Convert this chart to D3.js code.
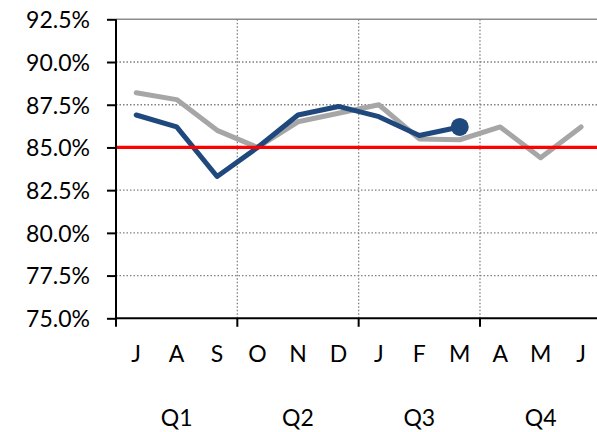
<!DOCTYPE html>
<html>
<head>
<meta charset="utf-8">
<script src="https://cdn.jsdelivr.net/npm/d3@7"></script>
<style>
html,body{margin:0;padding:0;background:#fff;}
svg{display:block;overflow:hidden;}
text{font-family:Lato,"Open Sans",sans-serif;fill:#000;}
</style>
</head>
<body>
<script>
const months = ["J","A","S","O","N","D","J","F","M","A","M","J"];
const quarters = ["Q1","Q2","Q3","Q4"];
const currentYear = [86.9, 86.2, 83.3, 85.0, 86.9, 87.4, 86.8, 85.7, 86.2];
const priorYear = [88.2, 87.8, 86.0, 85.0, 86.5, 87.0, 87.5, 85.5, 85.45, 86.2, 84.4, 86.2];
const target = 85.0;
const yTicks = [75, 77.5, 80, 82.5, 85, 87.5, 90, 92.5];

(function () {
const W = 597, H = 432;
const pL = 116, pR = 601.3, pT = 19.3, pB = 318.3;
const FS = 23;

const svg = d3.select("body").append("svg").attr("width", W).attr("height", H);

const x = d3.scaleBand().domain(d3.range(months.length)).range([pL, pR]).padding(0);
const xq = d3.scaleBand().domain(d3.range(quarters.length)).range([pL, pR]).padding(0);
const y = d3.scaleLinear().domain([75, 92.5]).range([pB, pT]);
const cx = i => x(i) + x.bandwidth() / 2;

svg.append("g").selectAll("line").data(yTicks.filter(t => t > 75 && t < 92.5)).join("line")
  .attr("x1", pL).attr("x2", W).attr("y1", d => y(d)).attr("y2", d => y(d))
  .attr("stroke", "#808080").attr("stroke-width", 1.3).attr("stroke-dasharray", "1.5,2");
svg.append("line").attr("x1", pL).attr("x2", W).attr("y1", y(92.5)).attr("y2", y(92.5))
  .attr("stroke", "#8c8c8c").attr("stroke-width", 1.5);
svg.append("g").selectAll("line").data([1, 2, 3]).join("line")
  .attr("x1", d => xq(d)).attr("x2", d => xq(d)).attr("y1", pT).attr("y2", pB)
  .attr("stroke", "#808080").attr("stroke-width", 1.3).attr("stroke-dasharray", "1.5,2");

const line = d3.line().x((d, i) => cx(i)).y(d => y(d));
svg.append("path").datum(priorYear).attr("d", line).attr("fill", "none")
  .attr("stroke", "#a6a6a6").attr("stroke-width", 5).attr("stroke-linejoin", "round").attr("stroke-linecap", "round");
svg.append("path").datum(currentYear).attr("d", line).attr("fill", "none")
  .attr("stroke", "#1f497d").attr("stroke-width", 5).attr("stroke-linejoin", "round").attr("stroke-linecap", "round");
const li = currentYear.length - 1;
svg.append("circle").attr("cx", cx(li)).attr("cy", y(currentYear[li])).attr("r", 9).attr("fill", "#1f497d");

svg.append("line").attr("x1", pL).attr("x2", W).attr("y1", y(target)).attr("y2", y(target))
  .attr("stroke", "#ff0000").attr("stroke-width", 3.2);

const yAxis = d3.axisLeft(y).tickValues(yTicks).tickSize(9).tickPadding(17)
  .tickFormat(d => d3.format(".1f")(d) + "%");
const gy = svg.append("g").attr("transform", `translate(${pL},0)`).call(yAxis);
gy.attr("font-family", null).attr("font-size", null);
gy.select(".domain").remove();
gy.selectAll(".tick line").attr("stroke", "#000").attr("stroke-width", 2);
gy.selectAll("text").style("font-size", FS + "px").attr("fill", "#000").attr("dy", "0.36em");
svg.append("line").attr("x1", pL).attr("x2", pL).attr("y1", pT).attr("y2", pB + 8.5)
  .attr("stroke", "#000").attr("stroke-width", 2);

svg.append("line").attr("x1", pL).attr("x2", W).attr("y1", pB).attr("y2", pB)
  .attr("stroke", "#000").attr("stroke-width", 2);
svg.append("g").selectAll("line").data([1, 2, 3]).join("line")
  .attr("x1", d => xq(d)).attr("x2", d => xq(d)).attr("y1", pB).attr("y2", pB + 8.5)
  .attr("stroke", "#000").attr("stroke-width", 2);

svg.append("g").selectAll("text").data(months).join("text")
  .attr("x", (d, i) => cx(i)).attr("y", 354).attr("dy", "0.36em").attr("text-anchor", "middle")
  .style("font-size", FS + "px").text(d => d);
svg.append("g").selectAll("text").data(quarters).join("text")
  .attr("x", (d, i) => xq(i) + xq.bandwidth() / 2).attr("y", 418).attr("dy", "0.36em").attr("text-anchor", "middle")
  .style("font-size", FS + "px").text(d => d);
})();
</script>
</body>
</html>
